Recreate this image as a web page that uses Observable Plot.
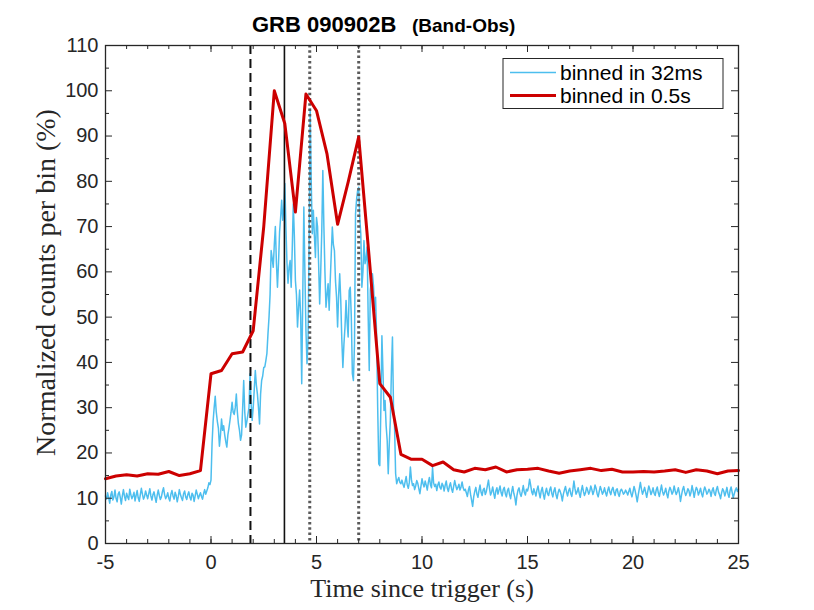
<!DOCTYPE html>
<html><head><meta charset="utf-8">
<script src="https://cdn.jsdelivr.net/npm/d3@7"></script>
<script src="https://cdn.jsdelivr.net/npm/@observablehq/plot@0.6"></script>
<style>body{margin:0;background:#fff;}#chart svg{display:block;}</style>
</head><body><div id="chart"></div>
<script>
// ---------------- data ----------------
const titleMain = "GRB 090902B";
const titleSub = "(Band-Obs)";
const xLabel = "Time since trigger (s)";
const yLabel = "Normalized counts per bin (%)";
const seriesNames = ["binned in 32ms", "binned in 0.5s"];

const xTicks = [-5, 0, 5, 10, 15, 20, 25];
const xMinorTicks = [-5,-4,-3,-2,-1,0,1,2,3,4,5,6,7,8,9,10,11,12,13,14,15,16,17,18,19,20,21,22,23,24,25];
const yTicks = [0, 10, 20, 30, 40, 50, 60, 70, 80, 90, 100, 110];
const yMinorTicks = [5, 15, 25, 35, 45, 55, 65, 75, 85, 95, 105];

// event markers (s)
const dashedMarker = [1.87];
const solidMarker = [3.48];
const dottedMarkers = [4.68, 7.0];

// fine-binned light curve: start -5 s, step 0.05 s
const blueStart = -5, blueStep = 0.05;
const blueCounts = [
10.5,9.8,11.2,10.1,8.9,10.7,11.5,9.6,10.3,11.8,10.0,9.2,10.9,11.4,10.2,8.7,10.6,11.9,10.4,9.5,
11.1,10.3,9.7,12.0,10.8,9.9,10.5,11.3,9.4,10.6,11.7,10.1,9.3,10.8,12.2,10.9,9.8,10.4,11.6,10.7,
9.9,11.0,12.1,10.5,9.6,10.8,11.4,10.2,9.1,10.7,11.8,10.6,9.7,10.3,11.5,12.3,10.8,9.9,10.4,11.2,
10.0,9.4,10.9,11.7,10.5,9.8,11.3,10.6,9.2,10.4,11.9,10.8,10.1,9.5,11.0,11.6,10.3,9.7,10.8,11.4,
10.2,9.6,11.1,10.7,9.3,10.5,11.8,10.9,9.9,10.6,11.2,10.4,9.8,11.0,11.9,10.9,11.6,12.3,13.4,13.0,
14,22,27,30,32.5,29,27,25.5,21.5,24,27.5,25,26,24,22.5,21.3,24,25.5,27.2,29,
31.2,29,28.5,30,33,29,26.4,25,22.8,24,30,36,29,25.7,27,28.5,30,37.5,31,27.2,
30,34,38.2,35,33,30,26.4,33,36,37,38.9,39,40.4,42,46.3,50,55,64.7,63,61,
66,70,62,56.6,62,68.8,72,75.8,71.4,74,79.5,70,62,57.5,61,62.5,56.6,65,75,68,
58.1,55,47.8,52.2,56,50,35.3,55,74.3,60,47,39.7,45,67,96,80,68.4,73.6,68,63.2,
72,70,61.8,52.9,60,69,82.4,70,60,52.2,55,57.4,51.5,58,64,69.9,66,64.7,58,54.4,
47.8,55,59.6,53.7,45,38.9,44,47.8,53.7,49,45.6,55.9,56.6,50,37.5,36,44,72.8,76,78,
78.7,72,68.4,56.6,60,66.9,61.8,63,65.5,50,38.2,56,58.1,59.6,57,51.5,54.4,45.6,30,17.6,
17.2,30,45.9,38,29.4,31.6,26,22.8,15.4,22,27.2,38,45.6,30,25.7,15.4,13.2,14,14.6,13.5,
13.2,
14.0,13.1,12.4,13.6,14.8,13.0,12.2,13.5,16.9,14.1,12.8,13.2,11.9,12.7,13.9,13.3,12.1,11.0,12.6,14.3,
13.2,12.5,13.8,12.9,11.8,13.5,14.6,13.0,12.3,16.8,13.4,12.6,13.1,11.7,12.9,13.6,12.4,12.0,13.3,12.8,
11.6,12.9,13.8,12.2,11.5,12.7,13.4,12.1,11.3,12.6,13.9,12.8,11.9,12.4,13.1,11.8,12.5,13.6,12.3,11.7,
12.0,11.2,10.4,11.8,12.6,10.9,9.6,8.2,10.3,11.5,12.4,11.0,10.2,11.7,12.9,11.3,10.6,11.9,12.2,10.8,
11.5,12.8,14.0,12.1,10.7,11.4,12.5,11.1,10.0,11.6,12.3,10.9,11.8,12.7,11.2,10.5,11.9,12.4,11.0,10.3,
11.7,12.2,10.8,9.9,11.4,12.6,11.1,10.2,8.5,10.6,11.8,12.3,11.0,10.4,11.5,12.8,11.3,10.7,12.0,11.6,
12.5,14.2,12.9,11.4,10.8,12.1,11.3,10.5,11.9,12.7,11.2,10.1,11.6,12.4,10.9,9.8,11.3,12.2,11.0,10.6,
11.8,12.5,11.1,10.3,11.6,12.3,10.8,9.9,11.2,12.0,11.5,10.7,9.4,10.9,11.8,12.6,11.3,10.5,11.7,12.2,
11.0,10.4,11.9,13.8,12.1,10.9,11.4,12.3,11.1,10.2,11.7,12.8,11.5,10.6,11.2,12.4,11.8,10.9,11.5,12.7,
11.9,10.8,11.6,12.9,12.2,11.0,10.3,11.5,12.6,11.8,10.9,11.4,12.3,11.2,10.5,11.7,12.5,11.4,10.8,11.9,
12.4,11.3,10.6,11.8,12.1,11.0,10.4,11.6,12.0,11.5,10.9,11.2,11.8,11.3,10.7,11.5,12.2,11.1,10.3,11.4,
12.6,11.7,10.5,9.2,10.8,12.1,13.5,12.0,10.9,11.6,12.4,11.3,10.2,11.5,12.7,11.9,10.8,11.4,12.3,11.1,
10.6,11.8,12.5,11.2,10.4,11.7,12.9,11.5,10.7,11.3,12.2,11.0,10.1,11.6,12.4,11.8,10.9,11.4,12.7,11.6,
10.8,11.5,12.3,11.1,9.3,10.7,11.9,12.6,11.4,10.6,11.2,12.1,11.7,10.5,11.3,12.8,11.6,10.2,11.5,12.4,
11.9,10.7,11.4,12.2,11.0,10.3,11.6,12.5,11.8,10.9,11.3,12.0,11.5,10.4,11.7,12.3,11.1,10.6,11.9,12.6,
11.4,10.8,9.9,11.2,12.1,11.6,10.5,11.3,12.4,11.0,10.2,11.7,12.5,11.3,10.1,11.0,11.8,12.3,11.5,12.0
];

// coarse-binned light curve: start -5 s, step 0.5 s
const redStart = -5, redStep = 0.5;
const redCounts = [
14.3,14.9,15.2,14.9,15.4,15.3,15.9,15.0,15.4,16.1,
37.5,38.2,41.9,42.3,47.0,70,100,92.7,73.2,99.3,
95.6,86,70.5,79.8,89.8,63,35.3,32.3,19.7,18.6,
18.6,17.2,18.0,16.3,15.8,16.6,16.3,16.9,15.8,16.3,
16.4,16.6,16.0,15.5,16.0,16.3,16.6,16.1,16.4,15.8,
15.8,15.9,15.8,16.0,16.3,15.7,16.3,16.0,15.4,16.0,16.1
];

// ---------------- chart ----------------
const W = 814, H = 610, mL = 105, mR = 76, mT = 45, mB = 67;
const plotW = W - mL - mR, plotH = H - mT - mB;
const axisColor = "#262626";
const blueColor = "#4DBEEE", redColor = "#CC0000";
const sans = "'Liberation Sans', Arial, Helvetica, sans-serif";
const serif = "'Liberation Serif', 'Times New Roman', serif";

const blue = blueCounts.map((v, i) => ({t: blueStart + i * blueStep, v}));
const red = redCounts.map((v, i) => ({t: redStart + i * redStep, v}));

const majorLen = 7, minorLen = 4;

const chart = Plot.plot({
  width: W, height: H,
  marginLeft: mL, marginRight: mR, marginTop: mT, marginBottom: mB,
  style: {fontFamily: sans, background: "white", overflow: "visible"},
  x: {domain: [-5, 25]},
  y: {domain: [0, 110]},
  marks: [
    Plot.line(blue, {x: "t", y: "v", stroke: blueColor, strokeWidth: 1.5}),
    Plot.ruleX(dashedMarker, {stroke: "#111", strokeWidth: 2, strokeDasharray: "9,5"}),
    Plot.ruleX(solidMarker, {stroke: "#111", strokeWidth: 1.6}),
    Plot.ruleX(dottedMarkers, {stroke: "#5a5a5a", strokeWidth: 3, strokeDasharray: "2.5,2.8"}),
    Plot.line(red, {x: "t", y: "v", stroke: redColor, strokeWidth: 3}),
    // inward ticks (bottom / top)
    Plot.tickX(xMinorTicks, {x: d => d, insetTop: plotH - minorLen, stroke: axisColor}),
    Plot.tickX(xMinorTicks, {x: d => d, insetBottom: plotH - minorLen, stroke: axisColor}),
    Plot.tickX(xTicks, {x: d => d, insetTop: plotH - majorLen, stroke: axisColor}),
    Plot.tickX(xTicks, {x: d => d, insetBottom: plotH - majorLen, stroke: axisColor}),
    // inward ticks (left / right)
    Plot.tickY(yMinorTicks, {y: d => d, insetRight: plotW - minorLen, stroke: axisColor}),
    Plot.tickY(yMinorTicks, {y: d => d, insetLeft: plotW - minorLen, stroke: axisColor}),
    Plot.tickY(yTicks, {y: d => d, insetRight: plotW - majorLen, stroke: axisColor}),
    Plot.tickY(yTicks, {y: d => d, insetLeft: plotW - majorLen, stroke: axisColor}),
    Plot.axisX({ticks: xTicks, tickSize: 0, tickPadding: 11, tickFormat: d => String(d),
      fontSize: 20, fill: axisColor, label: null}),
    Plot.axisY({ticks: yTicks, tickSize: 0, tickPadding: 7, tickFormat: d => String(d),
      fontSize: 20, fill: axisColor, label: null}),
    Plot.frame({stroke: axisColor, strokeWidth: 1.3}),
    Plot.text([xLabel], {frameAnchor: "bottom", dy: 45, lineAnchor: "middle", textAnchor: "middle",
      fontFamily: serif, fontSize: 26, fill: axisColor}),
    Plot.text([yLabel], {frameAnchor: "left", dx: -59, dy: -12, rotate: -90, lineAnchor: "middle", textAnchor: "middle",
      fontFamily: serif, fontSize: 28, fill: axisColor})
  ]
});

document.getElementById("chart").appendChild(chart);

// title
const svg = d3.select(chart);
svg.append("text").attr("x", 252).attr("y", 32).attr("text-anchor", "start")
  .attr("font-family", sans).attr("font-weight", "bold").attr("font-size", 22)
  .attr("fill", "#000").text(titleMain);
svg.append("text").attr("x", 412).attr("y", 32).attr("text-anchor", "start")
  .attr("font-family", sans).attr("font-weight", "bold").attr("font-size", 19)
  .attr("fill", "#000").text(titleSub);

// legend
const lg = svg.append("g");
lg.append("rect").attr("x", 503).attr("y", 58.5).attr("width", 220).attr("height", 50)
  .attr("fill", "white").attr("stroke", axisColor).attr("stroke-width", 1);
[[blueColor, 1.5, 72.5], [redColor, 3, 95.5]].forEach(([c, w, y], i) => {
  lg.append("line").attr("x1", 510).attr("x2", 556).attr("y1", y).attr("y2", y)
    .attr("stroke", c).attr("stroke-width", w);
  lg.append("text").attr("x", 560).attr("y", y + 7).attr("text-anchor", "start")
    .attr("font-family", sans).attr("font-size", 21).attr("fill", "#000")
    .text(seriesNames[i]);
});
</script>
</body></html>
